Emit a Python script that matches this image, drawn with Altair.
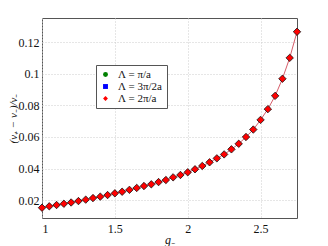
import altair as alt
import pandas as pd

g_minus = [1.0, 1.05, 1.1, 1.15, 1.2, 1.25, 1.3, 1.35, 1.4, 1.45, 1.5, 1.55,
           1.6, 1.65, 1.7, 1.75, 1.8, 1.85, 1.9, 1.95, 2.0, 2.05, 2.1, 2.15,
           2.2, 2.25, 2.3, 2.35, 2.4, 2.45, 2.5, 2.55, 2.6, 2.65, 2.7, 2.75]
ratio = [0.0153, 0.0162, 0.0170, 0.0178, 0.0186, 0.0195, 0.0204, 0.0214,
         0.0223, 0.0233, 0.0244, 0.0254, 0.0266, 0.0278, 0.0290, 0.0301,
         0.0315, 0.0328, 0.0345, 0.0360, 0.0377, 0.0396, 0.0417, 0.0440,
         0.0465, 0.0490, 0.0522, 0.0557, 0.0600, 0.0647, 0.0708, 0.0776,
         0.0860, 0.0968, 0.1100, 0.1265]
series = ["Λ = π/a", "Λ = 3π/2a", "Λ = 2π/a"]
colors = ["#008000", "#0000ff", "#ff0000"]
shapes = ["circle", "square", "diamond"]

rows = []
for s in series:
    for x, y in zip(g_minus, ratio):
        rows.append({"g": x, "r": y, "series": s})
df = pd.DataFrame(rows)
red = df[df.series == series[2]]

FONT = "Liberation Serif"

xs = alt.X("g:Q", scale=alt.Scale(domain=[1, 2.75], nice=False, zero=False),
           axis=alt.Axis(title="g₋", values=[1, 1.5, 2, 2.5], format="~g",
                         titleFontStyle="italic", titleFontWeight="normal"))
ys = alt.Y("r:Q", scale=alt.Scale(domain=[0.0088, 0.1352], nice=False, zero=False),
           axis=alt.Axis(title="(v₊ − v₋)/v₋", values=[0.02, 0.04, 0.06, 0.08, 0.1, 0.12],
                         format="~g", titleFontStyle="italic", titleFontWeight="normal",
                         titleX=-29, titleY=100, titleAngle=270, titleAlign="center",
                         titleBaseline="middle", titleFontSize=11))

line = alt.Chart(red).mark_line(color="#cc3344", strokeWidth=0.8).encode(x=xs, y=ys)

legend_layer = alt.Chart(df).mark_point(filled=True, size=10, opacity=1).encode(
    x=xs, y=ys,
    color=alt.Color("series:N", scale=alt.Scale(domain=series, range=colors),
                    sort=series,
                    legend=alt.Legend(title=None, orient="none", legendX=54, legendY=47,
                                      strokeColor="#555555", fillColor="white",
                                      padding=4, labelFont=FONT, labelFontSize=11,
                                      symbolSize=24, symbolStrokeWidth=0,
                                      rowPadding=0, labelOffset=7,
                                      labelColor="#111111")),
    shape=alt.Shape("series:N", scale=alt.Scale(domain=series, range=shapes), sort=series),
)

pts = alt.Chart(red).mark_point(filled=True, shape="diamond", color="#ff0000",
                                stroke="#111111", size=55, strokeWidth=0.8,
                                opacity=1).encode(x=xs, y=ys)

chart = alt.layer(line, legend_layer, pts).properties(
    width=255, height=200,
    padding={"left": 34, "top": 10, "right": 10, "bottom": 28},
    autosize=alt.AutoSizeParams(type="none"),
).configure_view(stroke="#555555", strokeWidth=1).configure_axis(
    grid=True, gridDash=[1, 2], gridColor="#cccccc", domain=False,
    ticks=False, labelFont=FONT, titleFont=FONT,
    labelFontSize=12, titleFontSize=12, labelColor="#111111", titleColor="#111111",
    labelPadding=3,
).configure_axisX(titlePadding=0, labelPadding=5)

chart.save("out.html", embed_options={"renderer": "svg", "actions": False})
